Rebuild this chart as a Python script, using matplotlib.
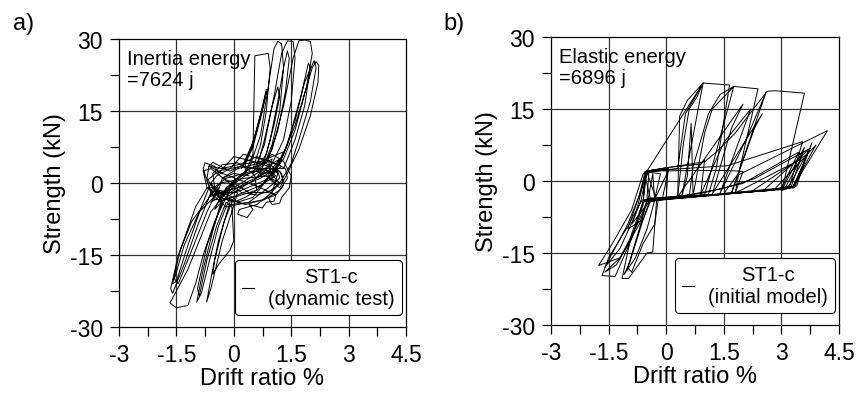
"""Hysteresis curves of specimen ST1-c: dynamic test vs. initial model."""
import matplotlib.pyplot as plt
from matplotlib.ticker import MultipleLocator

plt.rcParams["font.family"] = ["Liberation Sans", "DejaVu Sans"]
plt.rcParams["axes.unicode_minus"] = False

# ---- a) dynamic test: (drift ratio %, strength kN) ----
core_a = [
    (0.0, 0.0), (0.4, 3.0), (0.8, 4.0), (1.0, 5.0), (0.9, 1.0), (0.5, -3.0), (0.1, -4.0),
    (-0.4, -3.0), (-0.7, 1.0), (-0.65, 3.5), (-0.3, 3.0), (0.2, 4.0), (0.6, 5.5), (1.1, 4.0),
    (1.2, 1.0), (0.9, -1.0), (0.4, -4.0), (-0.2, -5.0), (-0.6, -2.0), (-0.8, 3.0), (-0.75, 4.2),
    (-0.5, 3.5), (-0.4, 2.0), (0.0, 5.5), (0.5, 4.5), (0.9, 3.5), (1.15, 2.0), (1.0, -2.0),
    (0.6, -4.5), (0.15, -5.5), (0.1, -6.5), (0.35, -7.2), (0.5, -5.5), (0.4, -4.5), (0.75, -5.2),
    (0.85, -4.0), (1.05, -3.8), (1.1, -2.5), (0.7, -1.0), (0.2, 0.5), (-0.3, 2.0), (-0.65, 3.5),
    (-0.55, 4.3), (-0.1, 2.5), (0.3, 4.0), (0.7, 4.5), (1.0, 3.5), (1.25, 2.0), (1.3, -0.5),
    (1.1, -2.5), (0.75, -3.5), (0.3, -4.5), (-0.2, -3.0), (-0.5, -1.0), (-0.55, 2.0), (-0.3, 3.8),
    (0.1, 4.2), (0.35, 3.0), (0.55, 1.5), (0.6, -1.5), (0.3, -3.0), (0.0, -4.0), (-0.35, -3.0),
    (-0.6, 0.0), (-0.45, 1.5), (-0.1, 3.0), (0.25, 6.0), (0.7, 5.0), (1.1, 4.0), (1.35, 3.0),
    (1.4, 1.0), (1.2, -1.5), (0.9, -3.0), (1.0, -4.5), (1.2, -4.2), (1.25, -3.0), (1.45, -1.0),
    (1.5, 1.5), (1.3, 4.5), (1.0, 6.0), (0.6, 3.0), (0.2, 1.0), (-0.2, -1.5), (-0.45, -2.5),
    (-0.7, -1.0), (-0.8, 2.5), (-0.6, 3.0), (-0.2, 0.5), (0.2, -2.0), (0.6, -2.5), (1.0, -1.5),
    (1.3, 0.5), (1.2, 2.5), (0.8, 2.0), (0.3, 0.0), (-0.1, -2.0), (-0.4, -1.5), (-0.3, 1.0),
    (0.0, 2.0), (0.4, 1.5),
]

inner_a = [
    (-0.6, -4.0), (0.0, -1.0), (0.6, 2.0), (1.2, 5.0), (1.0, 3.0), (0.4, 0.0), (-0.2, -3.0),
    (-0.5, -5.5), (-0.3, -2.0), (0.2, 1.5), (0.8, 3.0), (1.1, 1.5), (0.7, -0.5), (0.1, -2.5),
    (-0.4, -4.0), (-0.2, -1.0), (0.3, 2.5), (0.9, 4.5), (1.25, 3.5), (0.8, 0.5), (0.2, -1.5),
    (-0.3, -2.5), (-0.6, -1.5), (-0.2, 1.0), (0.5, 2.5), (1.0, 2.0), (0.6, -1.5), (0.0, -3.0),
    (-0.5, -3.5), (-0.7, 0.5), (-0.4, 2.5), (0.2, 3.5), (0.9, 2.5), (1.2, 0.0), (0.9, -2.0),
    (0.4, -2.0), (0.0, 0.0), (-0.3, 1.0), (0.1, 3.0), (0.6, 4.0), (1.0, 5.5), (1.3, 6.5),
    (1.1, 3.0), (0.7, 1.0), (0.1, -1.0), (-0.4, -2.0), (-0.65, -3.0), (-0.35, 0.0), (0.3, 1.0),
    (0.9, 1.5), (1.15, -0.5), (0.8, -3.5), (0.45, -4.0), (-0.1, -4.5),
]

neg_a = [
    (-0.2, -2.0), (-0.6, -6.0), (-0.9, -12.0), (-1.2, -18.0), (-1.5, -22.5), (-1.67, -25.0),
    (-1.5, -26.0), (-1.2, -25.5), (-1.0, -21.0), (-0.8, -15.0), (-0.5, -8.0), (-0.2, -3.0),
    (0.1, 1.0), (-0.3, -3.0), (-0.55, -10.0), (-0.8, -18.0), (-0.97, -24.8), (-0.85, -23.0),
    (-0.6, -15.0), (-0.4, -9.0), (-0.1, -3.0), (-0.1, -4.0), (-0.4, -12.0), (-0.6, -20.0),
    (-0.71, -24.8), (-0.6, -22.0), (-0.3, -12.0), (-0.05, -6.0), (0.1, -2.0), (-0.4, -2.0),
    (-0.9, -6.0), (-1.3, -13.0), (-1.55, -20.0), (-1.45, -21.0), (-1.1, -14.0), (-0.7, -6.0),
    (-0.4, -1.0), (-0.7, -1.0), (-1.0, -5.0), (-1.4, -14.0), (-1.6, -21.0), (-1.5, -20.5),
    (-1.2, -13.0), (-0.85, -5.0), (-0.6, 0.0), (-0.3, -4.0), (-0.7, -13.0), (-0.95, -22.0),
    (-0.9, -23.5), (-0.7, -16.0), (-0.45, -9.0), (-0.2, -4.0), (-0.05, -5.0), (0.0, -12.0),
    (-0.1, -14.0), (-0.4, -17.0), (-0.55, -19.0), (-0.5, -16.0), (-0.25, -8.0), (0.0, -3.0),
    (-0.5, -1.5), (-1.1, -8.0), (-1.45, -15.0), (-1.65, -22.0), (-1.6, -23.0), (-1.3, -17.0),
    (-0.95, -9.0), (-0.6, -2.0),
]

pos_a = [
    (0.2, 3.0), (0.5, 8.0), (0.7, 14.0), (0.85, 19.0), (0.8, 17.0), (0.6, 11.0), (0.4, 6.0),
    (0.2, 3.0), (0.5, 8.5), (0.72, 15.0), (0.85, 19.5), (0.75, 15.0), (0.5, 7.5), (0.3, 4.0),
    (0.3, 2.0), (0.5, 6.0), (0.55, 26.5), (0.9, 27.0), (0.95, 24.0), (0.85, 15.0), (0.7, 8.0),
    (0.5, 3.0), (0.4, 3.0), (0.7, 10.0), (0.9, 20.0), (1.05, 28.0), (1.15, 29.5), (1.25, 29.0),
    (1.3, 24.0), (1.2, 15.0), (1.0, 8.0), (0.8, 4.0), (0.5, 2.0), (0.8, 8.0), (1.05, 18.0),
    (1.25, 27.0), (1.4, 29.6), (1.55, 29.5), (1.6, 26.0), (1.5, 17.0), (1.3, 9.0), (1.0, 4.0),
    (0.6, 1.0), (1.0, 7.0), (1.3, 16.0), (1.55, 26.0), (1.7, 29.6), (1.85, 29.8), (2.0, 29.5),
    (2.05, 27.0), (1.9, 20.0), (1.6, 11.0), (1.3, 5.0), (1.0, 2.0), (0.8, 0.0), (1.2, 4.0),
    (1.6, 12.0), (1.9, 20.0), (2.05, 24.0), (2.15, 25.3), (2.22, 24.5), (2.2, 21.0), (2.0, 14.0),
    (1.7, 7.0), (1.4, 2.0), (1.2, -1.0), (0.9, 1.0), (1.3, 6.0), (1.6, 13.0), (1.85, 21.0),
    (2.1, 25.5), (2.15, 24.0), (2.0, 17.0), (1.7, 9.0), (1.5, 4.0), (1.2, 0.0), (0.7, 2.0),
    (0.95, 9.0), (1.15, 17.0), (1.3, 24.0), (1.4, 27.5), (1.45, 26.0), (1.35, 19.0), (1.15, 11.0),
    (0.9, 5.0), (1.0, 1.0), (1.4, 8.0), (1.75, 18.0), (1.95, 25.0), (2.0, 24.0), (1.85, 16.0),
    (1.6, 9.0), (1.3, 3.0), (0.6, 3.0), (0.8, 9.0), (1.0, 16.0), (1.15, 20.0), (1.2, 18.0),
    (1.05, 12.0), (0.85, 6.0), (0.6, 3.0),
]

# ---- b) initial model ----
env_b = [
    (0.0, 0.0), (0.05, 2.5), (-0.5, 2.0), (-0.55, -1.0), (-0.6, -4.0), (0.0, -3.6), (0.05, 2.8),
    (-0.5, 2.1), (-0.65, -3.9), (-0.9, -9.0), (-0.45, -4.4), (0.0, -3.6), (0.3, -3.4), (0.35, 13.5),
    (0.55, 16.8), (0.96, 20.4), (1.65, 20.0), (1.3, 2.5), (1.1, -2.8), (0.0, -3.6), (-0.65, -4.2),
    (-1.0, -9.5), (-1.5, -16.0), (-1.67, -19.7), (-1.33, -19.9), (-0.9, -12.0), (-0.6, -5.0),
    (-0.55, 2.0), (0.2, 3.0), (1.0, 4.0), (1.3, 6.0), (1.8, 10.0), (2.28, 15.1), (2.63, 18.7),
    (2.84, 18.8), (3.6, 18.3), (3.1, 1.0), (3.0, -1.8), (1.5, -2.7), (0.2, -3.4), (-0.6, -4.4),
    (-0.9, -11.0), (-1.15, -20.3), (-0.98, -20.3), (-0.5, -15.0), (-0.35, -14.8), (-0.25, -4.0),
    (-0.5, 1.8), (0.1, 2.4), (0.3, 2.6), (0.5, 14.0), (0.96, 20.4), (-0.5, 2.1), (1.6, 2.2),
    (2.0, 2.0), (1.8, -2.4),
]

mid_b = [
    (0.6, -3.2), (0.7, 3.0), (1.1, 14.0), (1.4, 18.0), (1.76, 19.7), (2.39, 19.2), (1.9, 2.0),
    (1.8, -2.4), (0.5, -3.3), (-0.5, -4.3), (-0.75, -9.0), (-1.2, -16.0), (-1.76, -17.6),
    (-1.4, -13.0), (-0.9, -6.0), (-0.6, 1.5), (0.0, 2.8), (0.9, 3.5), (1.0, 4.4), (0.9, -2.8),
    (1.5, 8.0), (2.2, 15.0), (1.4, -2.6), (2.1, 9.0), (2.6, 18.5), (1.7, -2.5), (2.3, 11.0),
    (2.5, 14.0), (1.2, -2.7), (1.7, 11.0), (2.0, 16.0), (0.3, -3.3), (0.45, 8.0), (0.6, 15.0),
    (0.8, 17.5), (0.96, 20.4), (0.4, -3.3), (0.55, 1.0), (0.65, 12.0), (0.7, -3.0), (1.0, 10.0),
    (1.2, 15.0), (1.76, 19.7), (1.0, -2.9), (-0.1, -3.7), (0.05, 2.0), (-0.3, -3.8), (-0.15, 1.5),
    (-0.55, 1.9), (-0.7, -3.0), (-1.0, -10.0), (-0.6, -8.0), (-0.4, -3.5),
]

left_b = [
    (-0.5, 2.0), (-0.7, -3.0), (-1.0, -9.0), (-1.4, -15.0), (-1.6, -18.0), (-1.2, -14.0),
    (-0.8, -7.0), (-0.55, 1.0), (-0.4, -4.0), (-0.6, -8.0), (-0.95, -17.0), (-1.1, -19.5),
    (-0.8, -16.0), (-0.5, -10.0), (-0.3, -4.0), (-0.35, 1.5), (-0.45, -3.0), (-0.7, -10.0),
    (-1.0, -18.0), (-0.9, -19.0), (-0.6, -13.0), (-0.3, -9.0), (-0.2, -3.5), (-0.6, -4.1),
    (-0.9, -12.0), (-1.3, -17.5), (-1.6, -19.0), (-1.2, -16.0), (-0.7, -9.0), (-0.5, -4.0),
]

fan_b = [
    (-0.6, -4.3), (1.5, -2.8), (3.2, -1.5), (3.55, 8.2), (1.6, 3.2), (-0.45, 2.1), (-0.5, -3.6),
    (0.5, -3.2), (2.0, -2.4), (3.25, -1.3), (3.6, 7.0), (3.0, -2.0), (3.3, -1.2), (4.2, 10.5),
    (1.84, 1.1), (1.5, -2.6), (3.35, -1.2), (3.8, 8.0), (3.3, -1.5), (3.4, -1.0), (3.7, 6.5),
    (2.5, -2.2), (3.3, -1.1), (3.9, 7.5), (2.8, -1.9), (3.2, -1.0), (3.65, 5.5), (2.2, -2.3),
    (3.1, -1.4), (3.5, 4.5), (1.8, -2.5), (3.0, -1.6), (3.45, 6.0), (2.0, -0.5), (0.9, -2.6),
    (-0.3, -3.8), (-0.55, -4.2), (2.6, -2.0), (3.3, -1.4), (3.75, 6.8), (3.1, 4.0), (2.3, 0.5),
    (1.5, -1.5), (0.5, -3.0), (-0.6, -3.9),
]

x_ticks = [-3, -1.5, 0, 1.5, 3, 4.5]
x_tick_labels = ["-3", "-1.5", "0", "1.5", "3", "4.5"]
y_ticks = [-30, -15, 0, 15, 30]


def _draw(ax, segments, note, legend_label):
    for seg in segments:
        xs, ys = zip(*seg)
        ax.plot(xs, ys, color="black", linewidth=0.7)
    ax.plot([], [], color="black", linewidth=0.8, label=legend_label)

    ax.set_xlim(-3, 4.5)
    ax.set_ylim(-30, 30)
    ax.set_xticks(x_ticks)
    ax.set_xticklabels(x_tick_labels)
    ax.set_yticks(y_ticks)
    ax.xaxis.set_minor_locator(MultipleLocator(0.75))
    ax.yaxis.set_minor_locator(MultipleLocator(7.5))
    ax.tick_params(which="both", direction="out", length=6.5, width=0.9, pad=5,
                   labelsize=16.5, top=False, right=False)
    for v in [-1.5, 0, 1.5, 3]:
        ax.axvline(v, color="#333333", linewidth=0.9, zorder=0)
    for v in [-15, 0, 15]:
        ax.axhline(v, color="#333333", linewidth=0.9, zorder=0)
    for sp in ax.spines.values():
        sp.set_linewidth(0.9)

    ax.set_xlabel("Drift ratio %", fontsize=17, labelpad=1)
    ax.set_ylabel("Strength (kN)", fontsize=17, labelpad=3)
    ax.text(0.027, 0.965, note, transform=ax.transAxes, fontsize=14.5,
            va="top", ha="left", linespacing=1.15)

    leg = ax.legend(loc="lower right", bbox_to_anchor=(0.985, 0.04), borderaxespad=0,
                    fontsize=14.5, handlelength=0.6, handletextpad=0.7, borderpad=0.35,
                    fancybox=True, framealpha=1, edgecolor="black")
    leg.get_frame().set_linewidth(0.8)
    for t in leg.get_texts():
        t.set_multialignment("center")


fig = plt.figure(figsize=(8.57, 4.02), dpi=100)
ax_a = fig.add_axes([119 / 857, 74 / 402, 287 / 857, 288 / 402])
ax_b = fig.add_axes([551 / 857, 76 / 402, 288 / 857, 288 / 402])

_draw(ax_a, [core_a, inner_a, neg_a, pos_a], "Inertia energy\n=7624 j", "ST1-c\n(dynamic test)")
_draw(ax_b, [env_b, mid_b, left_b, fan_b], "Elastic energy\n=6896 j", "ST1-c\n(initial model)")

fig.text(13 / 857, 1 - 30 / 402, "a)", fontsize=17)
fig.text(443 / 857, 1 - 30 / 402, "b)", fontsize=17)

fig.savefig("out.png", dpi=100)
